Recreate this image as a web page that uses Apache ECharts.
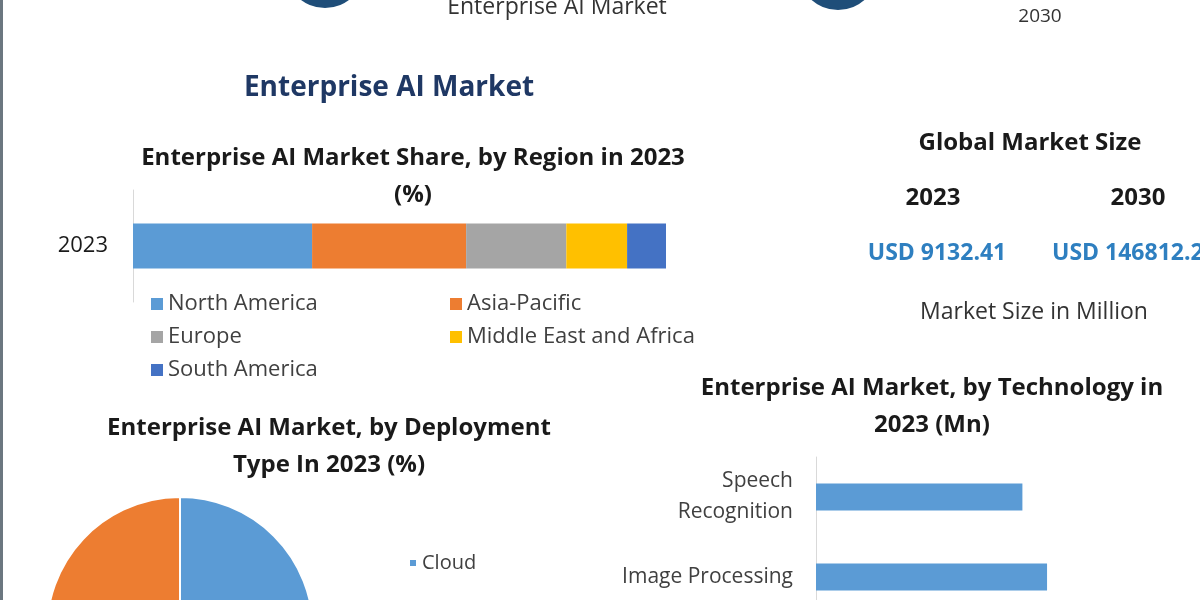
<!DOCTYPE html>
<html>
<head>
<meta charset="utf-8">
<script src="https://cdn.jsdelivr.net/npm/echarts@6/dist/echarts.min.js"></script>
<style>
  html, body { margin: 0; padding: 0; background: #fff; }
  #main { width: 1200px; height: 600px; }
</style>
</head>
<body>
<div id="main"></div>
<script>
const regionNames = ['North America', 'Asia-Pacific', 'Europe', 'Middle East and Africa', 'South America'];
const regionShare = [33.6, 28.9, 18.8, 11.4, 7.3];
const regionColors = ['#5b9bd5', '#ed7d31', '#a5a5a5', '#ffc000', '#4472c4'];

const deploymentNames = ['Cloud', 'On-Premise'];
const deploymentShare = [68, 32];

const techNames = ['Speech\nRecognition', 'Image Processing'];
const techValues = [1800, 2015];

const sizeYears = ['2023', '2030'];
const sizeValues = ['USD 9132.41', 'USD 146812.2'];

const FONT = '"Open Sans", Lato, sans-serif';

const chart = echarts.init(document.getElementById('main'), null, { renderer: 'canvas' });

function txt(x, y, text, size, weight, color, align) {
  return {
    type: 'text', x: x, y: y, silent: true,
    style: {
      text: text, fontSize: size, fontWeight: weight, fontFamily: FONT,
      fill: color, align: align || 'center', verticalAlign: 'middle'
    }
  };
}

let regionSeries = regionNames.map(function (name, i) {
  return {
    name: name,
    type: 'bar',
    stack: 'region',
    xAxisIndex: 0,
    yAxisIndex: 0,
    barWidth: 45,
    itemStyle: { color: regionColors[i] },
    data: [regionShare[i]]
  };
});

let option = {
  animation: false,
  backgroundColor: '#fff',
  textStyle: { fontFamily: FONT },
  graphic: [
    // left frame line
    { type: 'rect', shape: { x: 0, y: 0, width: 3, height: 600 }, style: { fill: '#6b7780' } },
    // top strip (cut-off header)
    { type: 'circle', shape: { cx: 325, cy: -32, r: 40 }, style: { fill: '#1f4e79' } },
    { type: 'circle', shape: { cx: 838, cy: -30, r: 40 }, style: { fill: '#1f4e79' } },
    txt(557, 7, 'Enterprise AI Market', 23, 'normal', '#333'),
    txt(1040, 17, '2030', 19, 'normal', '#333'),
    // titles
    txt(389, 88, 'Enterprise AI Market', 28, 'bold', '#1f3864'),
    txt(413, 158, 'Enterprise AI Market Share, by Region in 2023', 24, 'bold', '#1a1a1a'),
    txt(413, 195, '(%)', 24, 'bold', '#1a1a1a'),
    txt(1030, 143, 'Global Market Size', 24, 'bold', '#1a1a1a'),
    txt(933, 198, sizeYears[0], 24, 'bold', '#1a1a1a'),
    txt(1138, 198, sizeYears[1], 24, 'bold', '#1a1a1a'),
    txt(937, 253, sizeValues[0], 23, 'bold', '#2e7fc0'),
    txt(1052, 253, sizeValues[1], 23, 'bold', '#2e7fc0', 'left'),
    txt(1034, 312, 'Market Size in Million', 23, 'normal', '#333'),
    txt(329, 428, 'Enterprise AI Market, by Deployment', 24, 'bold', '#1a1a1a'),
    txt(329, 465, 'Type In 2023 (%)', 24, 'bold', '#1a1a1a'),
    txt(932, 388, 'Enterprise AI Market, by Technology in', 24, 'bold', '#1a1a1a'),
    txt(932, 425, '2023 (Mn)', 24, 'bold', '#1a1a1a')
  ],
  legend: [
    {
      data: ['North America', 'Europe', 'South America'],
      orient: 'vertical', left: 146, top: 288, icon: 'rect',
      itemWidth: 12, itemHeight: 12, itemGap: 11,
      textStyle: { fontSize: 22, color: '#404040', fontFamily: FONT }
    },
    {
      data: ['Asia-Pacific', 'Middle East and Africa'],
      orient: 'vertical', left: 445, top: 288, icon: 'rect',
      itemWidth: 12, itemHeight: 12, itemGap: 11,
      textStyle: { fontSize: 22, color: '#404040', fontFamily: FONT }
    },
    {
      data: deploymentNames,
      orient: 'vertical', left: 403, top: 548, height: 120, icon: 'rect',
      itemWidth: 8, itemHeight: 8, itemGap: 30,
      textStyle: { fontSize: 20, color: '#404040', fontFamily: FONT }
    }
  ],
  grid: [
    { left: 133, top: 190, width: 533, height: 112, outerBoundsMode: 'none' },
    { left: 816, top: 457, right: 40, height: 160, outerBoundsMode: 'none' }
  ],
  xAxis: [
    { gridIndex: 0, type: 'value', min: 0, max: 100, show: false },
    { gridIndex: 1, type: 'value', min: 0, max: 3000, show: false }
  ],
  yAxis: [
    {
      gridIndex: 0, type: 'category', data: ['2023'],
      axisLine: { lineStyle: { color: '#d9d9d9' } },
      axisTick: { show: false },
      axisLabel: { fontSize: 22, color: '#1a1a1a', margin: 25, fontFamily: FONT }
    },
    {
      gridIndex: 1, type: 'category', data: techNames, inverse: true,
      axisLine: { lineStyle: { color: '#d9d9d9' } },
      axisTick: { show: false },
      axisLabel: { fontSize: 21, color: '#404040', margin: 23, lineHeight: 31, align: 'right', fontFamily: FONT }
    }
  ],
  series: regionSeries.concat([
    {
      type: 'pie',
      center: [180, 630],
      radius: 133,
      startAngle: 90,
      label: { show: false },
      labelLine: { show: false },
      itemStyle: { borderColor: '#fff', borderWidth: 2 },
      data: deploymentNames.map(function (n, i) {
        return { name: n, value: deploymentShare[i], itemStyle: { color: i === 0 ? '#5b9bd5' : '#ed7d31' } };
      })
    },
    {
      type: 'bar',
      name: 'Technology',
      xAxisIndex: 1,
      yAxisIndex: 1,
      barWidth: 27,
      itemStyle: { color: '#5b9bd5' },
      data: techValues
    }
  ])
};

chart.setOption(option);
</script>
</body>
</html>
